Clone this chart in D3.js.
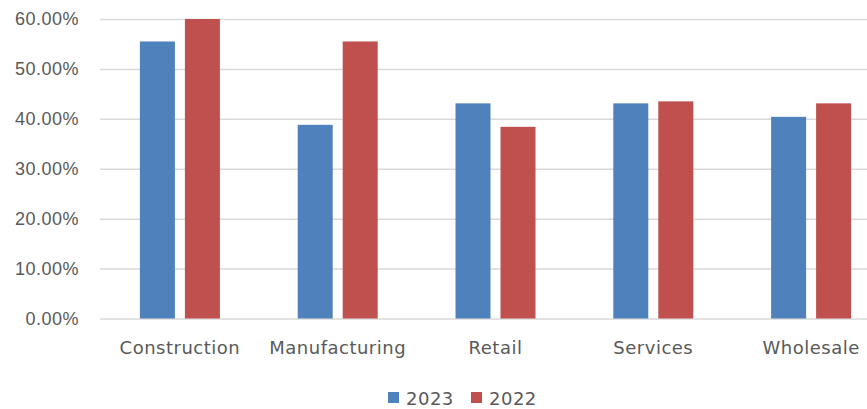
<!DOCTYPE html>
<html>
<head>
<meta charset="utf-8">
<script src="https://cdn.jsdelivr.net/npm/d3@7"></script>
<style>
  body { margin: 0; background: #fff; }
  svg { display: block; font-family: "DejaVu Sans", sans-serif; }
</style>
</head>
<body>
<div id="chart"></div>
<script>
// Grouped bars: share by sector, 2023 vs 2022

const categories = ["Construction", "Manufacturing", "Retail", "Services", "Wholesale"];
const seriesNames = ["2023", "2022"];
const values2023 = [0.555, 0.388, 0.431, 0.431, 0.404];
const values2022 = [0.600, 0.555, 0.384, 0.435, 0.431];
const yTicks = [0, 0.1, 0.2, 0.3, 0.4, 0.5, 0.6];

const colors = { "2023": "#4F81BD", "2022": "#C0504D" };

const width = 867;
const height = 409;
const plotLeft = 101, plotRight = 890;   // chart runs past the right edge
const plotTop = 19, plotBottom = 318.5;
const fontSize = "18px";
const spacing = "0.5px";

const data = categories.map((c, i) => ({
  category: c,
  values: [
    { series: "2023", value: values2023[i] },
    { series: "2022", value: values2022[i] }
  ]
}));

const svg = d3.select("#chart")
  .append("svg")
  .attr("width", width)
  .attr("height", height);

const x0 = d3.scaleBand()
  .domain(categories)
  .range([plotLeft, plotRight])
  .padding(0);

const x1 = d3.scaleBand()
  .domain(seriesNames)
  .range([-40, 40])
  .paddingInner(10 / 45);

const y = d3.scaleLinear()
  .domain([0, 0.6])
  .range([plotBottom, plotTop]);

// gridlines + y labels
const yAxis = svg.append("g")
  .attr("transform", `translate(${plotLeft - 1},0)`)
  .call(d3.axisLeft(y)
    .tickValues(yTicks)
    .tickSize(-(width - plotLeft + 2))
    .tickPadding(21)
    .tickFormat(d3.format(".2%")));
yAxis.select(".domain").remove();
yAxis.selectAll("line").attr("stroke", "#d9d9d9").attr("stroke-width", 1.5);
yAxis.selectAll("text")
  .attr("fill", "#595959")
  .style("font-size", fontSize)
  .style("letter-spacing", spacing);

// bars
const groups = svg.append("g")
  .selectAll("g")
  .data(data)
  .join("g")
  .attr("transform", d => `translate(${x0(d.category) + x0.bandwidth() / 2},0)`);

groups.selectAll("rect")
  .data(d => d.values)
  .join("rect")
  .attr("x", d => x1(d.series))
  .attr("y", d => y(d.value))
  .attr("width", x1.bandwidth())
  .attr("height", d => y(0) - y(d.value))
  .attr("fill", d => colors[d.series]);

// category labels
svg.append("g")
  .selectAll("text")
  .data(categories)
  .join("text")
  .attr("x", d => x0(d) + x0.bandwidth() / 2)
  .attr("y", 354)
  .attr("text-anchor", "middle")
  .attr("fill", "#595959")
  .style("font-size", fontSize)
  .style("letter-spacing", spacing)
  .text(d => d);

// legend
const legendX = [388, 471];
const legend = svg.append("g")
  .selectAll("g")
  .data(seriesNames)
  .join("g")
  .attr("transform", (d, i) => `translate(${legendX[i]},0)`);

legend.append("rect")
  .attr("x", 0)
  .attr("y", 392)
  .attr("width", 11)
  .attr("height", 11)
  .attr("fill", d => colors[d]);

legend.append("text")
  .attr("x", 18)
  .attr("y", 405)
  .attr("fill", "#595959")
  .style("font-size", fontSize)
  .style("letter-spacing", spacing)
  .text(d => d);
</script>
</body>
</html>
